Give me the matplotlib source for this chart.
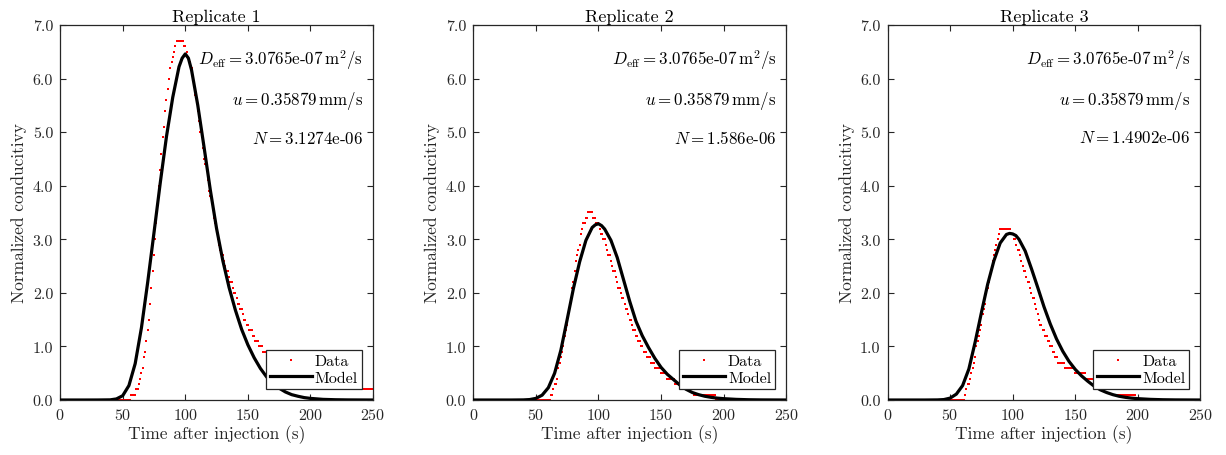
import matplotlib
matplotlib.use("Agg")
import matplotlib.pyplot as plt
from matplotlib.lines import Line2D

plt.rcParams["font.family"] = "serif"
plt.rcParams["font.serif"] = ["cmr10", "DejaVu Serif"]
plt.rcParams["mathtext.fontset"] = "cm"
plt.rcParams["axes.formatter.use_mathtext"] = True

titles = ["Replicate 1", "Replicate 2", "Replicate 3"]
d_eff_text = ["3.0765", "3.0765", "3.0765"]
u_text = ["0.35879", "0.35879", "0.35879"]
n_text = ["3.1274", "1.586", "1.4902"]

# measured data, one sample per second from t = 40 s
data_time = list(range(40, 251))

rep1_data = [
    0, 0, 0, 0, 0, 0, 0, 0, 0, 0,
    0, 0, 0, 0, 0, 0, 0, 0.1, 0.1, 0.1,
    0.1, 0.2, 0.2, 0.3, 0.4, 0.5, 0.6, 0.8, 0.9, 1.1,
    1.3, 1.5, 1.8, 2.1, 2.4, 2.7, 3.0, 3.3, 3.7, 4.0,
    4.3, 4.6, 4.9, 5.1, 5.4, 5.6, 5.8, 6.0, 6.2, 6.3,
    6.4, 6.5, 6.6, 6.7, 6.7, 6.7, 6.7, 6.7, 6.7, 6.6,
    6.6, 6.5, 6.4, 6.3, 6.3, 6.2, 6.0, 5.9, 5.7, 5.6,
    5.4, 5.2, 5.0, 4.9, 4.7, 4.5, 4.4, 4.3, 4.1, 3.9,
    3.8, 3.7, 3.6, 3.4, 3.3, 3.2, 3.0, 2.9, 2.8, 2.7,
    2.7, 2.6, 2.5, 2.4, 2.4, 2.3, 2.2, 2.2, 2.1, 2.0,
    2.0, 1.9, 1.8, 1.8, 1.7, 1.7, 1.6, 1.5, 1.5, 1.4,
    1.4, 1.3, 1.3, 1.3, 1.2, 1.2, 1.1, 1.1, 1.1, 1.0,
    1.0, 1.0, 0.9, 0.9, 0.9, 0.8, 0.8, 0.8, 0.8, 0.7,
    0.7, 0.7, 0.7, 0.6, 0.6, 0.6, 0.6, 0.6, 0.5, 0.5,
    0.5, 0.5, 0.5, 0.5, 0.5, 0.4, 0.4, 0.4, 0.4, 0.4,
    0.4, 0.4, 0.4, 0.4, 0.3, 0.3, 0.3, 0.3, 0.3, 0.3,
    0.3, 0.3, 0.3, 0.3, 0.3, 0.3, 0.3, 0.3, 0.3, 0.3,
    0.3, 0.3, 0.3, 0.3, 0.3, 0.3, 0.3, 0.3, 0.3, 0.3,
    0.3, 0.3, 0.3, 0.3, 0.3, 0.3, 0.3, 0.3, 0.3, 0.3,
    0.3, 0.3, 0.2, 0.2, 0.2, 0.2, 0.2, 0.2, 0.2, 0.2,
    0.2, 0.2, 0.2, 0.2, 0.2, 0.2, 0.2, 0.2, 0.2, 0.2,
    0.2,
]

rep2_data = [
    0, 0, 0, 0, 0, 0, 0, 0, 0, 0,
    0, 0, 0, 0, 0, 0, 0, 0, 0, 0,
    0, 0, 0.1, 0.1, 0.2, 0.3, 0.3, 0.4, 0.6, 0.7,
    0.8, 0.9, 1.0, 1.2, 1.3, 1.4, 1.6, 1.8, 1.9, 2.1,
    2.2, 2.4, 2.6, 2.7, 2.8, 2.9, 3.1, 3.2, 3.3, 3.3,
    3.4, 3.4, 3.5, 3.5, 3.5, 3.5, 3.4, 3.4, 3.3, 3.3,
    3.3, 3.2, 3.1, 3.1, 3.0, 3.0, 2.9, 2.8, 2.7, 2.7,
    2.6, 2.5, 2.4, 2.4, 2.3, 2.2, 2.1, 2.1, 2.0, 1.9,
    1.9, 1.8, 1.7, 1.7, 1.6, 1.5, 1.5, 1.4, 1.3, 1.3,
    1.2, 1.2, 1.1, 1.1, 1.0, 1.0, 0.9, 0.9, 0.9, 0.8,
    0.8, 0.8, 0.7, 0.7, 0.7, 0.6, 0.6, 0.6, 0.6, 0.6,
    0.5, 0.5, 0.5, 0.5, 0.5, 0.4, 0.4, 0.4, 0.4, 0.4,
    0.4, 0.3, 0.3, 0.3, 0.3, 0.3, 0.3, 0.2, 0.2, 0.2,
    0.2, 0.2, 0.2, 0.2, 0.2, 0.2, 0.1, 0.1, 0.1, 0.1,
    0.1, 0.1, 0.1, 0.1, 0.1, 0.1, 0.1, 0.1, 0.1, 0.1,
    0.1, 0.1, 0.1, 0.1, 0, 0, 0, 0, 0, 0,
    0, 0, 0, 0, 0, 0, 0, 0, 0, 0,
    0, 0, 0, 0, 0, 0, 0, 0, 0, 0,
    0, 0, 0, 0, 0, 0, 0, 0, 0, 0,
    0, 0, 0, 0, 0, 0, 0, 0, 0, 0,
    0, 0, 0, 0, 0, 0, 0, 0, 0, 0,
    0,
]

rep3_data = [
    0, 0, 0, 0, 0, 0, 0, 0, 0, 0,
    0, 0, 0, 0, 0, 0, 0, 0, 0, 0,
    0, 0, 0.1, 0.2, 0.3, 0.3, 0.4, 0.5, 0.6, 0.7,
    0.8, 1.0, 1.1, 1.2, 1.3, 1.4, 1.6, 1.7, 1.8, 2.0,
    2.1, 2.2, 2.3, 2.4, 2.6, 2.7, 2.8, 2.9, 3.0, 3.1,
    3.2, 3.2, 3.2, 3.2, 3.2, 3.2, 3.2, 3.2, 3.2, 3.1,
    3.1, 3.0, 3.0, 2.9, 2.8, 2.8, 2.7, 2.6, 2.5, 2.4,
    2.4, 2.3, 2.2, 2.2, 2.1, 2.0, 1.9, 1.9, 1.8, 1.7,
    1.6, 1.5, 1.4, 1.4, 1.3, 1.3, 1.2, 1.2, 1.1, 1.1,
    1.0, 1.0, 0.9, 0.9, 0.8, 0.8, 0.7, 0.7, 0.7, 0.7,
    0.7, 0.7, 0.6, 0.6, 0.6, 0.6, 0.6, 0.6, 0.6, 0.6,
    0.5, 0.5, 0.5, 0.5, 0.5, 0.5, 0.5, 0.5, 0.5, 0.4,
    0.4, 0.4, 0.4, 0.4, 0.4, 0.3, 0.3, 0.3, 0.3, 0.3,
    0.3, 0.3, 0.2, 0.2, 0.2, 0.2, 0.2, 0.2, 0.2, 0.2,
    0.1, 0.1, 0.1, 0.1, 0.1, 0.1, 0.1, 0.1, 0.1, 0.1,
    0.1, 0.1, 0.1, 0.1, 0.1, 0.1, 0.1, 0.1, 0.1, 0,
    0, 0, 0, 0, 0, 0, 0, 0, 0, 0,
    0, 0, 0, 0, 0, 0, 0, 0, 0, 0,
    0, 0, 0, 0, 0, 0, 0, 0, 0, 0,
    0, 0, 0, 0, 0, 0, 0, 0, 0, 0,
    0, 0, 0, 0, 0, 0, 0, 0, 0, 0,
    0,
]

# fitted model curve
model_time = [0, 10, 20, 30, 40, 45, 50, 55, 60, 65, 70, 75, 80, 85, 90, 95,
              97.5, 100, 102.5, 105, 110, 115, 120, 125, 130, 135, 140, 145,
              150, 155, 160, 165, 170, 175, 180, 185, 190, 195, 200,
              210, 220, 230, 240, 250]

rep1_model = [0, 0, 0, 0.0005, 0.003, 0.02, 0.08, 0.27, 0.68, 1.35, 2.2, 3.12,
              4.05, 4.92, 5.65, 6.22, 6.38, 6.46, 6.38, 6.16, 5.5, 4.72, 3.92,
              3.2, 2.6, 2.1, 1.68, 1.32, 1.03, 0.79, 0.59, 0.43, 0.31, 0.22,
              0.15, 0.1, 0.07, 0.045, 0.03, 0.012, 0.005, 0.002, 0.001, 0]

rep2_model = [0, 0, 0, 0, 0.002, 0.008, 0.03, 0.09, 0.23, 0.5, 0.93, 1.5, 2.08,
              2.58, 2.98, 3.22, 3.27, 3.29, 3.255, 3.19, 2.98, 2.66, 2.25, 1.84,
              1.47, 1.2, 0.98, 0.78, 0.61, 0.48, 0.38, 0.28, 0.2, 0.14, 0.1,
              0.07, 0.05, 0.035, 0.025, 0.012, 0.005, 0.002, 0.001, 0]

rep3_model = [0, 0, 0, 0, 0.002, 0.008, 0.035, 0.11, 0.27, 0.58, 1.08, 1.63,
              2.16, 2.6, 2.93, 3.09, 3.11, 3.1, 3.07, 3.0, 2.78, 2.45, 2.1, 1.74,
              1.42, 1.14, 0.91, 0.72, 0.57, 0.45, 0.35, 0.26, 0.19, 0.14, 0.1,
              0.07, 0.05, 0.035, 0.025, 0.012, 0.005, 0.002, 0.001, 0]

all_data = [rep1_data, rep2_data, rep3_data]
all_model = [rep1_model, rep2_model, rep3_model]

xticks = [0, 50, 100, 150, 200, 250]
yticks = [0, 1, 2, 3, 4, 5, 6, 7]

dark = "#262626"

fig = plt.figure(figsize=(12.26, 4.56), dpi=100)
lefts = [0.049, 0.386, 0.7239]

for i in range(3):
    ax = fig.add_axes([lefts[i], 0.1206, 0.2553, 0.8224])

    ax.plot(data_time, all_data[i], linestyle="none", marker="s",
            markersize=1.8, markeredgewidth=0, color="red", zorder=2)
    ax.plot(model_time, all_model[i], color="black", linewidth=2.3, zorder=3,
            solid_joinstyle="round")

    ax.set_xlim(0, 250)
    ax.set_ylim(0, 7)
    ax.set_xticks(xticks)
    ax.set_yticks(yticks)
    ax.set_yticklabels(["%.1f" % v for v in yticks])
    ax.tick_params(direction="in", top=True, right=True, length=4,
                   width=0.8, color=dark, labelcolor=dark, labelsize=11.5, pad=5)
    for s in ax.spines.values():
        s.set_color(dark)
        s.set_linewidth(0.9)

    ax.set_title(titles[i], fontsize=13, pad=3)
    ax.set_xlabel("Time after injection (s)", fontsize=12.5, color=dark, labelpad=2)
    ax.set_ylabel("Normalized conducitivy", fontsize=12.5, color=dark, labelpad=4)

    ax.text(0.968, 0.91,
            r"$D_{\mathrm{eff}} = %s$e-07$\,\mathrm{m}^2/\mathrm{s}$" % d_eff_text[i],
            transform=ax.transAxes, ha="right", va="center", fontsize=12.2)
    ax.text(0.968, 0.80, r"$u = %s\,\mathrm{mm/s}$" % u_text[i],
            transform=ax.transAxes, ha="right", va="center", fontsize=12.2)
    ax.text(0.968, 0.70, r"$N = %s$e-06" % n_text[i],
            transform=ax.transAxes, ha="right", va="center", fontsize=12.2)

    handles = [
        Line2D([], [], linestyle="none", marker="s", markersize=1.8,
               markeredgewidth=0, color="red"),
        Line2D([], [], color="black", linewidth=2.3),
    ]
    leg = ax.legend(handles, ["Data", "Model"], loc="lower right", fontsize=11.5,
                    frameon=True, fancybox=False, framealpha=1,
                    edgecolor=dark, handlelength=2.6, handletextpad=0.2,
                    borderpad=0.25, labelspacing=0.15, borderaxespad=0.7)
    leg.get_frame().set_linewidth(0.9)

fig.savefig("out.png", dpi=100)
